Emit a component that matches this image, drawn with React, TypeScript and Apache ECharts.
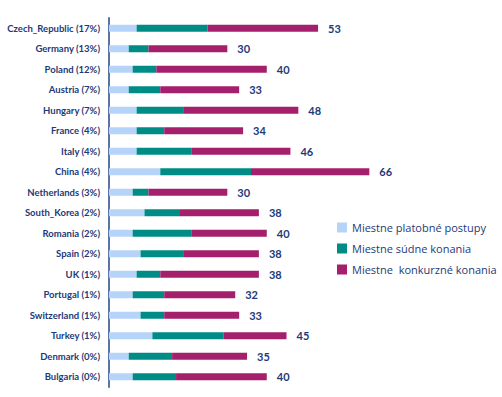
import React, { useEffect, useRef } from "react";
import * as echarts from "echarts";

const categories = [
  "Czech_Republic (17%)",
  "Germany (13%)",
  "Poland (12%)",
  "Austria (7%)",
  "Hungary (7%)",
  "France (4%)",
  "Italy (4%)",
  "China (4%)",
  "Netherlands (3%)",
  "South_Korea (2%)",
  "Romania (2%)",
  "Spain (2%)",
  "UK (1%)",
  "Portugal (1%)",
  "Switzerland (1%)",
  "Turkey (1%)",
  "Denmark (0%)",
  "Bulgaria (0%)",
];
const platobne = [7, 5, 6, 5, 7, 7, 7, 13, 6, 9, 6, 8, 7, 6, 8, 11, 5, 6];
const sudne = [18, 5, 6, 8, 12, 7, 14, 23, 4, 9, 15, 11, 6, 8, 6, 18, 11, 11];
const konkurzne = [28, 20, 28, 20, 29, 20, 25, 30, 20, 20, 19, 19, 25, 18, 19, 16, 19, 23];
const seriesNames = [
  "Miestne platobné postupy",
  "Miestne súdne konania",
  "Miestne  konkurzné konania",
];

export default function App() {
  const ref = useRef<HTMLDivElement>(null);
  useEffect(() => {
    if (!ref.current) return;
    const chart = echarts.init(ref.current, null, { renderer: "svg" });
    const txt = "#1d3a78";
    const font = "Lato";
    chart.setOption({
      animation: false,
      backgroundColor: "#ffffff",
      legend: {
        orient: "vertical",
        left: 332,
        top: 217,
        itemWidth: 10,
        itemHeight: 10,
        itemGap: 10,
        icon: "rect",
        textStyle: { color: txt, fontSize: 11, fontFamily: "Open Sans" },
        data: seriesNames,
      },
      grid: {
        left: 109,
        right: 38,
        top: 18,
        bottom: 10,
        containLabel: false,
        outerBoundsMode: "none",
      },
      xAxis: {
        type: "value",
        min: 0,
        max: 90,
        show: false,
      },
      yAxis: {
        type: "category",
        inverse: true,
        data: categories,
        axisLine: { show: true, lineStyle: { color: "#5a74a6", width: 2 } },
        axisTick: { show: false },
        axisLabel: {
          color: txt,
          fontSize: 9.5,
          fontWeight: "bold",
          fontFamily: font,
          margin: 9,
        },
      },
      series: [
        {
          name: seriesNames[0],
          type: "bar",
          stack: "t",
          data: platobne,
          barWidth: 7,
          itemStyle: { color: "#b6d3fa" },
        },
        {
          name: seriesNames[1],
          type: "bar",
          stack: "t",
          data: sudne,
          barWidth: 7,
          itemStyle: { color: "#008c86" },
        },
        {
          name: seriesNames[2],
          type: "bar",
          stack: "t",
          data: konkurzne,
          barWidth: 7,
          itemStyle: { color: "#a5206c" },
          label: {
            show: true,
            position: "right",
            distance: 10,
            color: txt,
            fontSize: 11,
            fontWeight: "bold",
            fontFamily: font,
            formatter: (p: any) =>
              String(platobne[p.dataIndex] + sudne[p.dataIndex] + konkurzne[p.dataIndex]),
          },
        },
      ],
    });
    return () => chart.dispose();
  }, []);
  return <div ref={ref} style={{ width: 502, height: 397, position: "absolute", left: 0, top: 0 }} />;
}
